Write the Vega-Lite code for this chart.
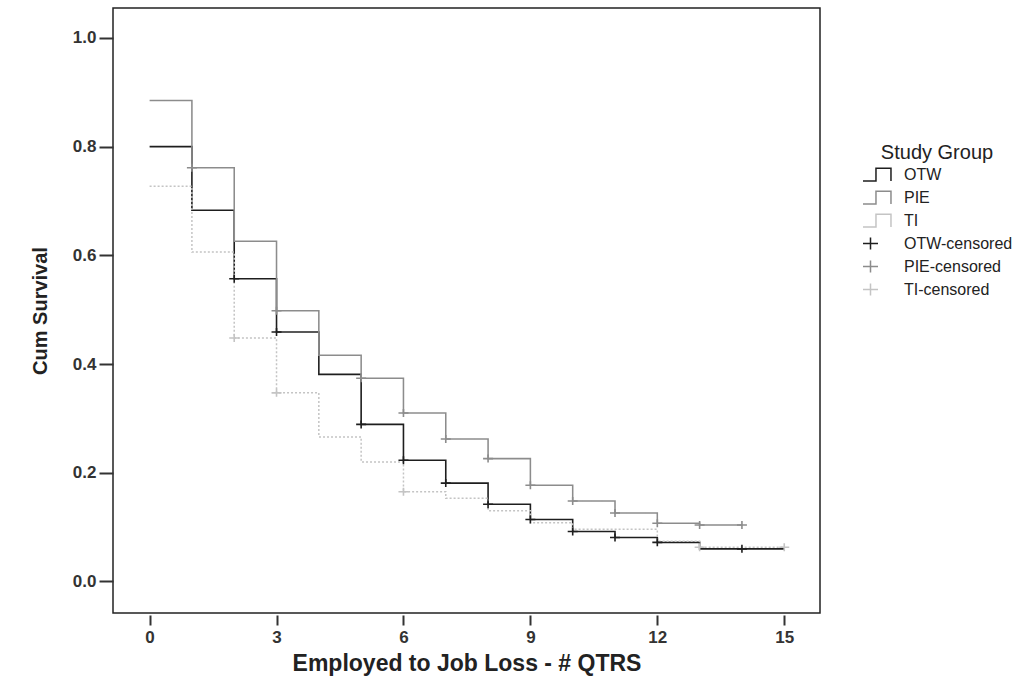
{
  "$schema": "https://vega.github.io/schema/vega-lite/v6.json",
  "width": 707,
  "height": 605,
  "autosize": {"type": "none"},
  "padding": {"left": 113, "top": 8, "right": 216, "bottom": 64},
  "background": "white",
  "config": {
    "font": "Liberation Sans",
    "view": {"stroke": "#222", "strokeWidth": 1.5},
    "axis": {
      "domain": false,
      "grid": false,
      "labelFont": "Liberation Sans",
      "labelFontSize": 17,
      "labelFontWeight": "bold",
      "labelColor": "#333",
      "tickColor": "#333",
      "tickWidth": 2,
      "titleFont": "Liberation Sans",
      "titleFontWeight": "bold",
      "titleColor": "#222"
    }
  },
  "datasets": {
    "km": [
      {"group": "OTW", "t": 0, "s": 0.80},
      {"group": "OTW", "t": 1, "s": 0.683},
      {"group": "OTW", "t": 2, "s": 0.557},
      {"group": "OTW", "t": 3, "s": 0.459},
      {"group": "OTW", "t": 4, "s": 0.381},
      {"group": "OTW", "t": 5, "s": 0.289},
      {"group": "OTW", "t": 6, "s": 0.223},
      {"group": "OTW", "t": 7, "s": 0.181},
      {"group": "OTW", "t": 8, "s": 0.142},
      {"group": "OTW", "t": 9, "s": 0.114},
      {"group": "OTW", "t": 10, "s": 0.092},
      {"group": "OTW", "t": 11, "s": 0.081},
      {"group": "OTW", "t": 12, "s": 0.072},
      {"group": "OTW", "t": 13, "s": 0.060},
      {"group": "OTW", "t": 15, "s": 0.060},
      {"group": "PIE", "t": 0, "s": 0.885},
      {"group": "PIE", "t": 1, "s": 0.761},
      {"group": "PIE", "t": 2, "s": 0.626},
      {"group": "PIE", "t": 3, "s": 0.498},
      {"group": "PIE", "t": 4, "s": 0.416},
      {"group": "PIE", "t": 5, "s": 0.374},
      {"group": "PIE", "t": 6, "s": 0.310},
      {"group": "PIE", "t": 7, "s": 0.262},
      {"group": "PIE", "t": 8, "s": 0.226},
      {"group": "PIE", "t": 9, "s": 0.177},
      {"group": "PIE", "t": 10, "s": 0.148},
      {"group": "PIE", "t": 11, "s": 0.126},
      {"group": "PIE", "t": 12, "s": 0.107},
      {"group": "PIE", "t": 13, "s": 0.104},
      {"group": "PIE", "t": 14, "s": 0.104},
      {"group": "TI", "t": 0, "s": 0.727},
      {"group": "TI", "t": 1, "s": 0.606},
      {"group": "TI", "t": 2, "s": 0.448},
      {"group": "TI", "t": 3, "s": 0.347},
      {"group": "TI", "t": 4, "s": 0.266},
      {"group": "TI", "t": 5, "s": 0.220},
      {"group": "TI", "t": 6, "s": 0.165},
      {"group": "TI", "t": 7, "s": 0.153},
      {"group": "TI", "t": 8, "s": 0.130},
      {"group": "TI", "t": 9, "s": 0.108},
      {"group": "TI", "t": 10, "s": 0.096},
      {"group": "TI", "t": 12, "s": 0.074},
      {"group": "TI", "t": 13, "s": 0.063},
      {"group": "TI", "t": 15, "s": 0.063}
    ],
    "censored": [
      {"group": "OTW-censored", "t": 2, "s": 0.557},
      {"group": "OTW-censored", "t": 3, "s": 0.459},
      {"group": "OTW-censored", "t": 5, "s": 0.289},
      {"group": "OTW-censored", "t": 6, "s": 0.223},
      {"group": "OTW-censored", "t": 7, "s": 0.181},
      {"group": "OTW-censored", "t": 8, "s": 0.142},
      {"group": "OTW-censored", "t": 9, "s": 0.114},
      {"group": "OTW-censored", "t": 10, "s": 0.092},
      {"group": "OTW-censored", "t": 11, "s": 0.081},
      {"group": "OTW-censored", "t": 12, "s": 0.072},
      {"group": "OTW-censored", "t": 14, "s": 0.060},
      {"group": "PIE-censored", "t": 1, "s": 0.761},
      {"group": "PIE-censored", "t": 3, "s": 0.498},
      {"group": "PIE-censored", "t": 5, "s": 0.374},
      {"group": "PIE-censored", "t": 6, "s": 0.310},
      {"group": "PIE-censored", "t": 7, "s": 0.262},
      {"group": "PIE-censored", "t": 8, "s": 0.226},
      {"group": "PIE-censored", "t": 9, "s": 0.177},
      {"group": "PIE-censored", "t": 10, "s": 0.148},
      {"group": "PIE-censored", "t": 11, "s": 0.126},
      {"group": "PIE-censored", "t": 12, "s": 0.107},
      {"group": "PIE-censored", "t": 13, "s": 0.104},
      {"group": "PIE-censored", "t": 14, "s": 0.104},
      {"group": "TI-censored", "t": 2, "s": 0.448},
      {"group": "TI-censored", "t": 3, "s": 0.347},
      {"group": "TI-censored", "t": 6, "s": 0.165},
      {"group": "TI-censored", "t": 13, "s": 0.063},
      {"group": "TI-censored", "t": 15, "s": 0.063}
    ]
  },
  "encoding": {
    "x": {
      "field": "t",
      "type": "quantitative",
      "scale": {"domain": [-0.865, 15.845], "nice": false, "zero": false},
      "axis": {
        "title": "Employed to Job Loss - # QTRS",
        "titleFontSize": 23,
        "titlePadding": 7,
        "values": [0, 3, 6, 9, 12, 15],
        "offset": 2,
        "tickSize": 10,
        "labelPadding": 4
      }
    },
    "y": {
      "field": "s",
      "type": "quantitative",
      "scale": {"domain": [-0.058, 1.055], "nice": false, "zero": false},
      "axis": {
        "title": "Cum Survival",
        "titleFontSize": 20,
        "titlePadding": 22,
        "values": [0, 0.2, 0.4, 0.6, 0.8, 1.0],
        "format": ".1f",
        "tickSize": 14,
        "labelPadding": 3
      }
    }
  },
  "layer": [
    {
      "data": {"name": "km"},
      "mark": {"type": "line", "interpolate": "step-after"},
      "encoding": {
        "detail": {"field": "group"},
        "stroke": {
          "field": "group",
          "type": "nominal",
          "scale": {"domain": ["TI", "PIE", "OTW"], "range": ["#c4c4c4", "#8c8c8c", "#1e1e1e"]},
          "legend": null
        },
        "strokeWidth": {
          "field": "group",
          "type": "nominal",
          "scale": {"domain": ["TI", "PIE", "OTW"], "range": [1.5, 1.6, 2.2]},
          "legend": null
        },
        "strokeDash": {
          "field": "group",
          "type": "nominal",
          "scale": {"domain": ["TI", "PIE", "OTW"], "range": [[2, 2], [1, 0], [1, 0]]},
          "legend": null
        }
      }
    },
    {
      "data": {"name": "censored"},
      "mark": {"type": "point", "size": 100, "strokeWidth": 1.6, "filled": false, "opacity": 1},
      "encoding": {
        "color": {
          "field": "group",
          "type": "nominal",
          "title": "Study Group",
          "scale": {
            "domain": ["OTW", "PIE", "TI", "OTW-censored", "PIE-censored", "TI-censored"],
            "range": ["#1e1e1e", "#8c8c8c", "#c4c4c4", "#1e1e1e", "#8c8c8c", "#c4c4c4"]
          },
          "legend": {
            "orient": "none",
            "legendX": 749,
            "legendY": 135,
            "padding": 0,
            "titleFontSize": 20,
            "titleFontWeight": "normal",
            "titleColor": "#222",
            "titleAnchor": "middle",
            "titlePadding": 3,
            "labelFontSize": 16,
            "labelColor": "#222",
            "labelOffset": 25,
            "symbolSize": 225,
            "symbolStrokeWidth": 1.5,
            "rowPadding": 4
          }
        },
        "shape": {
          "field": "group",
          "type": "nominal",
          "title": "Study Group",
          "scale": {
            "domain": ["OTW", "PIE", "TI", "OTW-censored", "PIE-censored", "TI-censored"],
            "range": [
              "M-1,0.85L0.73,0.85L0.73,-0.85L2.73,-0.85L2.73,0.85",
              "M-1,0.85L0.73,0.85L0.73,-0.85L2.73,-0.85L2.73,0.85",
              "M-1,0.85L0.73,0.85L0.73,-0.85L2.73,-0.85L2.73,0.85",
              "M-1,0L1,0M0,-0.8L0,0.8",
              "M-1,0L1,0M0,-0.8L0,0.8",
              "M-1,0L1,0M0,-0.8L0,0.8"
            ]
          }
        }
      }
    }
  ]
}
